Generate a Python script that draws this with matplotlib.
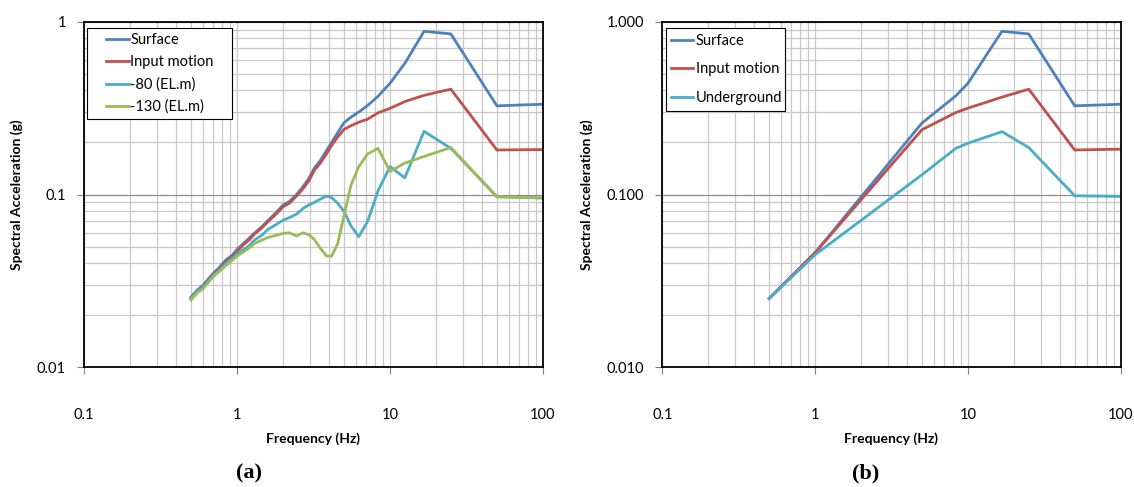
import matplotlib
matplotlib.use("Agg")
import matplotlib.pyplot as plt
from matplotlib.lines import Line2D
from matplotlib.legend_handler import HandlerLine2D
from matplotlib.ticker import LogLocator, FixedLocator, FixedFormatter, NullFormatter

plt.rcParams['font.family'] = ['Lato', 'DejaVu Sans']

# (a) site response spectra, frequency points shared by all four curves
freq_a = [0.5, 0.55, 0.6, 0.65, 0.7, 0.77, 0.85, 0.93, 1.0, 1.1, 1.2, 1.3, 1.45, 1.6,
          1.8, 2.0, 2.2, 2.45, 2.7, 2.95, 3.2, 3.5, 3.85, 4.15, 4.55, 5.0, 5.55, 6.25,
          7.15, 8.35, 10.0, 12.5, 16.7, 25.0, 50.0, 100.0]
surface_a = [0.0255, 0.028, 0.0298, 0.0325, 0.035, 0.038, 0.042, 0.0445, 0.048, 0.052,
             0.0558, 0.0598, 0.065, 0.071, 0.0785, 0.087, 0.091, 0.1, 0.111, 0.124,
             0.142, 0.157, 0.18, 0.2, 0.228, 0.26, 0.28, 0.3, 0.328, 0.37, 0.44, 0.574,
             0.88, 0.85, 0.326, 0.333]
input_a = [0.025, 0.0275, 0.029, 0.0318, 0.0345, 0.037, 0.041, 0.0435, 0.047, 0.0512,
           0.0545, 0.059, 0.064, 0.0698, 0.077, 0.085, 0.089, 0.098, 0.108, 0.12,
           0.138, 0.152, 0.172, 0.192, 0.215, 0.238, 0.25, 0.262, 0.273, 0.297, 0.315,
           0.345, 0.375, 0.407, 0.181, 0.182]
el80_a = [0.025, 0.0275, 0.029, 0.0315, 0.034, 0.0365, 0.04, 0.0425, 0.0455, 0.048,
          0.0505, 0.0545, 0.058, 0.063, 0.067, 0.071, 0.0735, 0.077, 0.083, 0.087,
          0.09, 0.094, 0.098, 0.096, 0.089, 0.08, 0.066, 0.057, 0.07, 0.105, 0.145,
          0.125, 0.232, 0.185, 0.097, 0.0955]
el130_a = [0.0245, 0.027, 0.0285, 0.031, 0.0335, 0.036, 0.039, 0.0415, 0.044, 0.0465,
           0.049, 0.052, 0.0545, 0.0565, 0.058, 0.0595, 0.06, 0.0575, 0.06, 0.0585,
           0.055, 0.049, 0.044, 0.044, 0.052, 0.075, 0.113, 0.145, 0.172, 0.185, 0.136,
           0.152, 0.166, 0.187, 0.097, 0.0955]

# (b) simplified spectra
freq_b = [0.5, 1.0, 5.0, 8.33, 10.0, 16.7, 25.0, 50.0, 100.0]
surface_b = [0.025, 0.046, 0.259, 0.372, 0.44, 0.88, 0.85, 0.326, 0.333]
input_b = [0.025, 0.046, 0.237, 0.298, 0.316, 0.366, 0.407, 0.181, 0.183]
under_b = [0.025, 0.0448, 0.13, 0.185, 0.198, 0.231, 0.187, 0.0983, 0.0975]

x_ticks = [0.1, 1, 10, 100]
x_labels = ["0.1", "1", "10", "100"]
y_ticks = [0.01, 0.1, 1]
y_labels_a = ["0.01", "0.1", "1"]
y_labels_b = ["0.010", "0.100", "1.000"]

BLUE, RED, CYAN, GREEN = "#4F81BD", "#C0504D", "#4BACC6", "#9BBB59"


class ShortLine(HandlerLine2D):
    # legend line drawn only over the right part of the handle box (Excel look)
    def __init__(self, skip=0.0, **kw):
        super().__init__(**kw)
        self.skip = skip

    def create_artists(self, legend, orig_handle, xdescent, ydescent, width, height,
                       fontsize, trans):
        arts = super().create_artists(legend, orig_handle, xdescent, ydescent, width,
                                      height, fontsize, trans)
        xd = arts[0].get_xdata()
        yd = arts[0].get_ydata()
        x0, x1 = xd[0], xd[-1]
        arts[0].set_data([x0 + self.skip * (x1 - x0), x1], [yd[0], yd[-1]])
        return arts


fig = plt.figure(figsize=(11.34, 4.87), dpi=100)
ax_a = fig.add_axes([0.0741, 0.2458, 0.4047, 0.7096])
ax_b = fig.add_axes([0.5840, 0.2458, 0.4043, 0.7096])


def style_axes(ax, ylabels):
    ax.set_xscale("log")
    ax.set_yscale("log")
    ax.set_xlim(0.1, 100)
    ax.set_ylim(0.01, 1)
    ax.xaxis.set_major_locator(FixedLocator(x_ticks))
    ax.xaxis.set_major_formatter(FixedFormatter(x_labels))
    ax.yaxis.set_major_locator(FixedLocator(y_ticks))
    ax.yaxis.set_major_formatter(FixedFormatter(ylabels))
    ax.xaxis.set_minor_locator(LogLocator(base=10, subs=range(2, 10)))
    ax.yaxis.set_minor_locator(LogLocator(base=10, subs=range(2, 10)))
    ax.xaxis.set_minor_formatter(NullFormatter())
    ax.yaxis.set_minor_formatter(NullFormatter())
    ax.tick_params(which="minor", length=0)
    ax.tick_params(which="major", length=5, width=0.8, color="#808080", labelsize=10.5)
    ax.tick_params(axis="x", pad=24)
    ax.tick_params(axis="y", pad=8)
    ax.grid(True, which="minor", color="#c8c8c8", lw=0.9)
    ax.grid(True, which="major", axis="x", color="#c8c8c8", lw=0.9)
    ax.grid(True, which="major", axis="y", color="#8c8c8c", lw=0.9)
    ax.set_axisbelow(True)
    for s in ax.spines.values():
        s.set_linewidth(1.3)
        s.set_color("black")
    ax.set_xlabel("Frequency (Hz)", fontsize=10, fontweight="bold", labelpad=8)
    ax.set_ylabel("Spectral Acceleration (g)", fontsize=10, fontweight="bold", labelpad=10)


style_axes(ax_a, y_labels_a)
ax_a.plot(freq_a, surface_a, color=BLUE, lw=2, label="Surface")
ax_a.plot(freq_a, input_a, color=RED, lw=2, label="Input motion")
ax_a.plot(freq_a, el80_a, color=CYAN, lw=2, label="-80 (EL.m)")
ax_a.plot(freq_a, el130_a, color=GREEN, lw=2, label="-130 (EL.m)")
leg = ax_a.legend(loc="upper left", bbox_to_anchor=(0.007, 0.981, 0.315, 0.0),
                  mode="expand", fontsize=10.5, fancybox=False, framealpha=1,
                  edgecolor="black", handlelength=2.5, handletextpad=0.1,
                  labelspacing=0.55, borderpad=0.35, borderaxespad=0,
                  handler_map={Line2D: ShortLine(skip=0.38)})
leg.get_frame().set_linewidth(0.8)

style_axes(ax_b, y_labels_b)
ax_b.plot(freq_b, surface_b, color=BLUE, lw=2, label="Surface")
ax_b.plot(freq_b, input_b, color=RED, lw=2, label="Input motion")
ax_b.plot(freq_b, under_b, color=CYAN, lw=2, label="Underground")
leg = ax_b.legend(loc="upper left", bbox_to_anchor=(0.0074, 0.981, 0.26, 0.0),
                  mode="expand", fontsize=10.5, fancybox=False, framealpha=1,
                  edgecolor="black", handlelength=1.5, handletextpad=0.15,
                  labelspacing=0.98, borderpad=0.4, borderaxespad=0)
leg.get_frame().set_linewidth(0.8)

fig.text(249 / 1134, 1 - 473 / 487, "(a)", ha="center", va="center",
         fontsize=16, fontweight="bold", family="Liberation Serif")
fig.text(866 / 1134, 1 - 473 / 487, "(b)", ha="center", va="center",
         fontsize=16, fontweight="bold", family="Liberation Serif")

fig.savefig("out.png", dpi=100)
